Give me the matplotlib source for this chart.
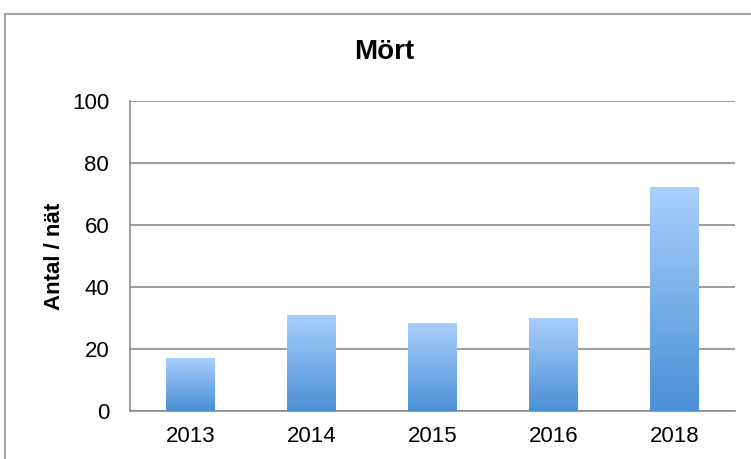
import numpy as np
import matplotlib.pyplot as plt
from matplotlib.colors import LinearSegmentedColormap
from matplotlib.patches import Rectangle

years = ["2013", "2014", "2015", "2016", "2018"]
antal = [17, 30.7, 28.2, 30, 72]

plt.rcParams["font.family"] = ["Liberation Sans", "DejaVu Sans"]

fig = plt.figure(figsize=(7.51, 4.59), dpi=100)
ax = fig.add_axes([130 / 751, 1 - 411 / 459, 605 / 751, 310 / 459])

# gradient fill, light on top, darker at the bottom
cmap = LinearSegmentedColormap.from_list("blue", ["#4a90d6", "#a9cffd"])
grad = np.linspace(0, 1, 256).reshape(-1, 1)
width = 0.4
x = np.arange(len(years))
bars = ax.bar(x, antal, width=width, color="none", zorder=3)
for b in bars:
    x0, y0 = b.get_x(), b.get_y()
    ax.imshow(grad, cmap=cmap, origin="lower", aspect="auto",
              extent=(x0, x0 + b.get_width(), y0, y0 + b.get_height()), zorder=3)

ax.set_xlim(-0.5, len(years) - 0.5)
ax.set_ylim(0, 100)
ax.set_yticks(range(0, 101, 20))
ax.set_xticks(x)
ax.set_xticklabels(years)
ax.tick_params(axis="both", labelsize=16, length=0, colors="#000000")
ax.tick_params(axis="y", pad=15)
ax.tick_params(axis="x", pad=11)
ax.yaxis.grid(True, color="#8c8c8c", linewidth=1.2, zorder=0)
ax.set_axisbelow(True)
for s in ["top", "right"]:
    ax.spines[s].set_visible(False)
for s in ["left", "bottom"]:
    ax.spines[s].set_color("#8c8c8c")
    ax.spines[s].set_linewidth(1.2)

ax.set_ylabel("Antal / nät", fontsize=16, fontweight="bold", labelpad=5)
fig.text(384 / 751, 1 - 52 / 459, "Mört", fontsize=20, fontweight="bold",
         ha="center", va="center")

# outer chart frame (runs off the right and bottom edges)
fig.patches.append(Rectangle((5 / 751, -0.1), 1.2, 1 - 14 / 459 + 0.1,
                             transform=fig.transFigure, fill=False,
                             edgecolor="#a6a6a6", linewidth=1.5))

fig.savefig("out.png", dpi=100)
